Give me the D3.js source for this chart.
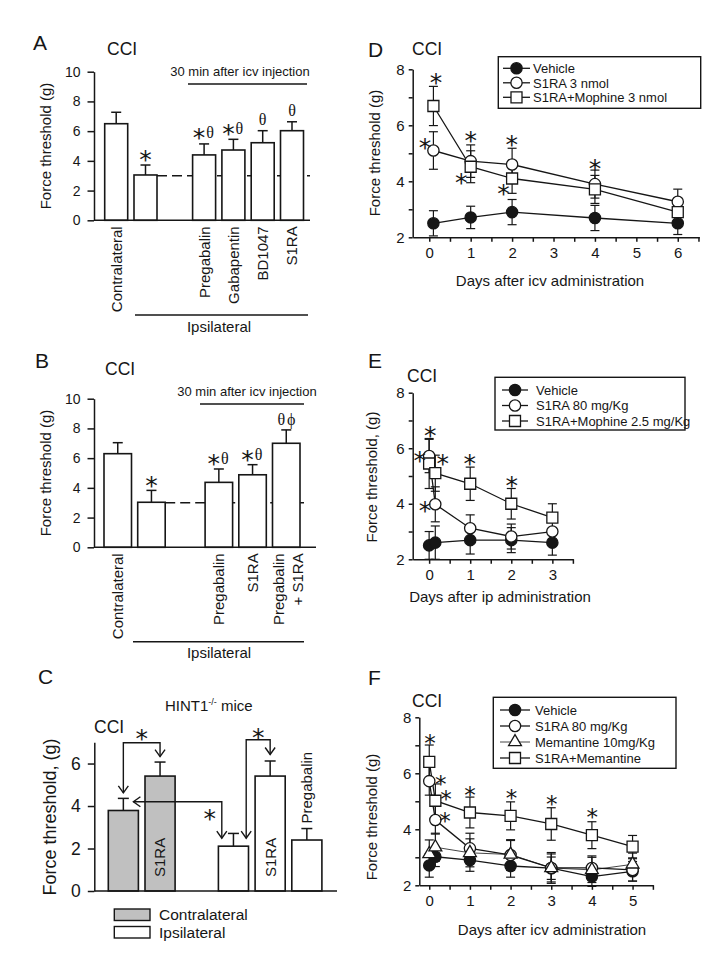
<!DOCTYPE html>
<html>
<head>
<meta charset="utf-8">
<script src="https://cdn.jsdelivr.net/npm/d3@7/dist/d3.min.js"></script>
<style>
html,body{margin:0;padding:0;background:#fff;}
svg{display:block;}
</style>
</head>
<body>
<svg id="fig" width="715" height="964"></svg>
<script>
// ================= DATA =================
// Panel A (CCI, icv, 30 min)
const aCategories = ["Contralateral","Ipsilateral","Pregabalin","Gabapentin","BD1047","S1RA"];
const aTickLabels = [["Contralateral"],[],["Pregabalin"],["Gabapentin"],["BD1047"],["S1RA"]];
const aMeans  = [6.5, 3.05, 4.4, 4.73, 5.22, 6.03];
const aErrors = [0.77, 0.67, 0.74, 0.72, 0.81, 0.6];
const aMarks  = ["", "*", "*θ", "*θ", "θ", "θ"];
const abYTicks = [0, 2, 4, 6, 8, 10];

// Panel B
const bCategories = ["Contralateral","Ipsilateral","Pregabalin","S1RA","Pregabalin + S1RA"];
const bTickLabels = [["Contralateral"],[],["Pregabalin"],["S1RA"],["Pregabalin","+ S1RA"]];
const bMeans  = [6.3, 3.03, 4.37, 4.88, 7.0];
const bErrors = [0.74, 0.8, 0.9, 0.68, 0.9];
const bMarks  = ["", "*", "*θ", "*θ", "θϕ"];

// Panel C (HINT1-/- mice)
const cCategories = ["Contralateral","Contralateral S1RA","Ipsilateral","Ipsilateral S1RA","Ipsilateral Pregabalin"];
const cSides      = ["Contralateral","Contralateral","Ipsilateral","Ipsilateral","Ipsilateral"];
const cBarLabels  = ["", "S1RA", "", "S1RA", "Pregabalin"];
const cMeans  = [3.79, 5.41, 2.11, 5.41, 2.4];
const cErrors = [0.57, 0.66, 0.6, 0.71, 0.54];
const cYTicks = [0, 2, 4, 6];
const cLegend = ["Contralateral","Ipsilateral"];

// Panel D (icv, days)
const dDays = [0.1, 1, 2, 4, 6];
const dNames = ["Vehicle","S1RA 3 nmol","S1RA+Mophine 3 nmol"];
const dVehicle = [2.5, 2.71, 2.9, 2.69, 2.5];
const dVehicleErr = [0.45, 0.4, 0.45, 0.45, 0.4];
const dS1RA = [5.1, 4.72, 4.6, 3.9, 3.27];
const dS1RAErr = [0.67, 0.58, 0.58, 0.5, 0.45];
const dCombo = [6.69, 4.52, 4.1, 3.71, 2.9];
const dComboErr = [0.7, 0.57, 0.53, 0.5, 0.3];
const dStars = [[0.16,7.69],[-0.1,5.4],[1.0,5.65],[0.77,4.12],[1.99,5.51],[1.79,3.76],[4.0,4.65]];
const dXTickLabels = [0,1,2,3,4,5,6];

// Panel E (ip, days)
const eDays = [0, 0.15, 1, 2, 3];
const eNames = ["Vehicle","S1RA 80 mg/Kg","S1RA+Mophine 2.5 mg/Kg"];
const eVehicle = [2.5, 2.6, 2.69, 2.69, 2.6];
const eVehicleErr = [0.5, 0.6, 0.5, 0.45, 0.45];
const eS1RA = [5.72, 3.98, 3.12, 2.82, 3.0];
const eS1RAErr = [0.6, 0.63, 0.48, 0.45, 0.1];
const eCombo = [5.45, 5.1, 4.72, 4.0, 3.5];
const eComboErr = [0.9, 0.65, 0.6, 0.55, 0.5];
const eStars = [[0.03,6.65],[-0.23,5.75],[0.33,5.63],[-0.1,3.92],[0.99,5.63],[2.01,4.83]];
const eXTickLabels = [0,1,2,3];

// Panel F (icv, memantine)
const fDays = [0, 0.15, 1, 2, 3, 4, 5];
const fNames = ["Vehicle","S1RA 80 mg/Kg","Memantine 10mg/Kg","S1RA+Memantine"];
const fVehicle = [2.71, 3.02, 2.9, 2.69, 2.61, 2.31, 2.5];
const fVehicleErr = [0.42, 0.35, 0.4, 0.4, 0.4, 0.35, 0.35];
const fS1RA = [5.72, 4.33, 3.32, 3.08, 2.62, 2.62, 2.55];
const fS1RAErr = [0.5, 0.5, 0.54, 0.55, 0.55, 0.43, 0.4];
const fMemantine = [3.12, 3.36, 3.16, 3.1, 2.62, 2.55, 2.75];
const fMemantineErr = [0.5, 0.5, 0.5, 0.5, 0.5, 0.45, 0.4];
const fCombo = [6.41, 5.02, 4.6, 4.48, 4.19, 3.79, 3.38];
const fComboErr = [0.6, 0.6, 0.55, 0.5, 0.58, 0.48, 0.4];
const fStars = [[0.02,7.25],[0.28,5.76],[0.41,5.23],[0.39,4.45],[1.0,5.4],[2.02,5.29],[3.01,5.05],[4.01,4.59]];
const fXTickLabels = [0,1,2,3,4,5];

// ================= DRAWING =================
const svg = d3.select("#fig");
const SANS = '"Liberation Sans", Arial, sans-serif';
const SERIF = '"Liberation Serif", "Times New Roman", serif';
const STAR_FONT = '"DejaVu Sans", sans-serif';
const STAR_FS = 25, STAR_DY = 13.5;
const INK = "#161616";
const GREY = "#c0c0c0";

function txt(g, x, y, s, size, opts = {}) {
  return g.append("text").attr("x", x).attr("y", y)
    .attr("font-size", size).attr("font-family", opts.font || SANS)
    .attr("text-anchor", opts.anchor || "start").attr("fill", INK).text(s);
}
function line(g, x1, y1, x2, y2, w = 1.5) {
  return g.append("line").attr("x1", x1).attr("y1", y1).attr("x2", x2).attr("y2", y2)
    .attr("stroke", INK).attr("stroke-width", w);
}
function star(g, cx, cy, fs) {
  const f = fs || STAR_FS;
  txt(g, cx, cy + STAR_DY * f / STAR_FS, "*", f, {anchor: "middle", font: STAR_FONT});
}
function mark(g, cx, cy, m) {
  const chars = Array.from(m);
  const w = chars.map(c => c === "*" ? 12 : 10);
  let xp = cx - d3.sum(w) / 2;
  chars.forEach((c, i) => {
    const mid = xp + w[i] / 2;
    if (c === "*") star(g, mid, cy);
    else txt(g, mid, cy + 5.5, c, 16, {anchor: "middle", font: SERIF});
    xp += w[i];
  });
}
function styleAxis(ag, fs) {
  ag.attr("font-size", fs).attr("font-family", SANS).attr("color", INK);
  ag.selectAll("path,line").attr("stroke-width", 1.5);
}
function rotLabel(g, cx, yTop, s, fs, anchor) {
  g.append("text").attr("transform", `translate(${cx + 0.36 * fs},${yTop}) rotate(-90)`)
    .attr("font-size", fs).attr("font-family", SANS).attr("fill", INK)
    .attr("text-anchor", anchor).text(s);
}

function barPanel(o) {
  const g = svg.append("g");
  const slots = o.categories.slice(0, 2).concat(["__gap"], o.categories.slice(2));
  const x = d3.scaleBand().domain(slots).range(o.xRange).paddingInner(o.padInner).paddingOuter(0);
  const y = d3.scaleLinear().domain(o.yDomain).range(o.yRange);
  const bw = x.bandwidth();
  const cx = c => x(c) + bw / 2;
  if (o.refValue != null) {
    line(g, x(o.categories[1]) + bw, y(o.refValue), o.refEnd, y(o.refValue), 1.5)
      .attr("stroke-dasharray", "10,5");
  }
  g.selectAll("rect.bar").data(o.categories).join("rect").attr("class", "bar")
    .attr("x", c => x(c)).attr("width", bw)
    .attr("y", (c, i) => y(o.means[i]))
    .attr("height", (c, i) => y(0) - y(o.means[i]))
    .attr("fill", (c, i) => o.fills ? o.fills[i] : "#fff")
    .attr("stroke", INK).attr("stroke-width", 1.6);
  o.categories.forEach((c, i) => {
    const top = y(o.means[i] + o.errors[i]);
    line(g, cx(c), y(o.means[i]), cx(c), top, 1.5);
    line(g, cx(c) - o.cap, top, cx(c) + o.cap, top, 1.5);
  });
  const ya = d3.axisLeft(y).tickValues(o.yTicks).tickFormat(d3.format("d"))
    .tickSize(6.5).tickSizeOuter(0).tickPadding(7);
  const yg = g.append("g").attr("transform", `translate(${o.xAxisStart},0)`).call(ya);
  styleAxis(yg, o.tickFs);
  line(g, o.xAxisStart, y(0), o.xAxisEnd, y(0), 1.5);
  return {g, x, y, bw, cx};
}

// ---------- Panel A ----------
(function () {
  const p = barPanel({categories: aCategories, means: aMeans, errors: aErrors,
    xRange: [104.7, 303.5], padInner: 0.215, yDomain: [0, 10], yRange: [220.3, 71.7],
    yTicks: abYTicks, xAxisStart: 94, xAxisEnd: 310, refValue: 3, refEnd: 310, cap: 5, tickFs: 14});
  const g = p.g;
  aCategories.forEach((c, i) => {
    aTickLabels[i].forEach(s => rotLabel(g, p.cx(c), p.y(0) + 6, s, 15, "end"));
    if (aMarks[i]) mark(g, p.cx(c), p.y(aMeans[i] + aErrors[i]) - 11, aMarks[i]);
  });
  txt(g, 33, 50, "A", 21);
  txt(g, 107, 55, "CCI", 17.5);
  g.append("text").attr("transform", "translate(51,146) rotate(-90)").attr("text-anchor", "middle")
    .attr("font-size", 15).attr("font-family", SANS).attr("fill", INK).text("Force threshold (g)");
  txt(g, 240, 76, "30 min after icv injection", 13, {anchor: "middle"});
  line(g, 188, 84, 307, 84, 1.5);
  line(g, 135, 315, 308, 315, 1.5);
  txt(g, 219, 332, "Ipsilateral", 15, {anchor: "middle"});
})();

// ---------- Panel B ----------
(function () {
  const p = barPanel({categories: bCategories, means: bMeans, errors: bErrors,
    xRange: [104, 300], padInner: 0.184, yDomain: [0, 10], yRange: [547.3, 398.7],
    yTicks: abYTicks, xAxisStart: 94, xAxisEnd: 316, refValue: 3, refEnd: 304, cap: 5, tickFs: 14});
  const g = p.g;
  bCategories.forEach((c, i) => {
    const labs = bTickLabels[i];
    labs.forEach((s, k) => {
      const off = labs.length === 1 ? 0 : (k === 0 ? -8 : 11);
      rotLabel(g, p.cx(c) + off, p.y(0) + 6, s, 15, "end");
    });
    if (bMarks[i]) mark(g, p.cx(c), p.y(bMeans[i] + bErrors[i]) - 10, bMarks[i]);
  });
  txt(g, 35, 368, "B", 21);
  txt(g, 105, 375, "CCI", 17.5);
  g.append("text").attr("transform", "translate(51,473) rotate(-90)").attr("text-anchor", "middle")
    .attr("font-size", 15).attr("font-family", SANS).attr("fill", INK).text("Force threshold (g)");
  txt(g, 247, 396, "30 min after icv injection", 13, {anchor: "middle"});
  line(g, 200, 404, 304, 404, 1.5);
  line(g, 133, 641.7, 304, 641.7, 1.5);
  txt(g, 219, 657.5, "Ipsilateral", 15, {anchor: "middle"});
})();

// ---------- Panel C ----------
(function () {
  const p = barPanel({categories: cCategories, means: cMeans, errors: cErrors,
    fills: cSides.map(s => s === "Contralateral" ? GREY : "#fff"),
    xRange: [108.3, 321.9], padInner: 0.18, yDomain: [0, 7], yRange: [891, 742.3],
    yTicks: cYTicks, xAxisStart: 94.3, xAxisEnd: 337, refValue: null, cap: 5.5, tickFs: 17.5});
  const g = p.g, x = p.x, y = p.y, bw = p.bw;
  cCategories.forEach((c, i) => {
    if (cBarLabels[i] === "S1RA") rotLabel(g, p.cx(c), y(0) - 14, cBarLabels[i], 15, "start");
    else if (cBarLabels[i]) rotLabel(g, p.cx(c), y(cMeans[i] + cErrors[i]) - 5, cBarLabels[i], 15, "start");
  });
  txt(g, 38, 684, "C", 21);
  const h = txt(g, 165, 711, "HINT1", 15);
  h.append("tspan").attr("dy", -6).attr("font-size", 9).text("-/-");
  h.append("tspan").attr("dy", 6).attr("font-size", 15).text(" mice");
  txt(g, 94, 733.3, "CCI", 17.5);
  g.append("text").attr("transform", "translate(56,817) rotate(-90)").attr("text-anchor", "middle")
    .attr("font-size", 18).attr("font-family", SANS).attr("fill", INK).text("Force threshold, (g)");

  // arrows
  function head(px, py, dir) {
    const L = 7, W = 5;
    let pts;
    if (dir === "down") pts = [[px - W, py - L], [px, py], [px + W, py - L]];
    else pts = [[px + L, py - W], [px, py], [px + L, py + W]];
    g.append("path").attr("d", d3.line()(pts)).attr("fill", "none").attr("stroke", INK).attr("stroke-width", 1.4);
  }
  function poly(pts) {
    g.append("path").attr("d", d3.line()(pts)).attr("fill", "none").attr("stroke", INK).attr("stroke-width", 1.4);
  }
  const c0 = p.cx(cCategories[0]), c1 = p.cx(cCategories[1]), c3 = p.cx(cCategories[3]);
  const lev1 = y(6.98);
  const t0 = y(cMeans[0] + cErrors[0]) - 5.5, t1 = y(cMeans[1] + cErrors[1]) - 5.5;
  poly([[c0, t0], [c0, lev1], [c1, lev1], [c1, t1]]);
  head(c0, t0, "down"); head(c1, t1, "down");
  star(g, (c0 + c1) / 2, lev1 - 9);

  const lev2 = y(4.2);
  const lx = x(cCategories[0]) + bw - 5;
  const ix1 = x(cCategories[2]) + 3.4;
  const ti = y(cMeans[2]) - 8;
  poly([[lx, lev2], [ix1, lev2], [ix1, ti]]);
  head(lx, lev2, "left"); head(ix1, ti, "down");
  star(g, ix1 - 12, lev2 + 12);

  const ix2 = x(cCategories[2]) + bw - 2.3;
  const lev3 = y(7.12);
  const t3 = y(cMeans[3] + cErrors[3]) - 6.5;
  poly([[ix2, ti], [ix2, lev3], [c3, lev3], [c3, t3]]);
  head(ix2, ti, "down"); head(c3, t3, "down");
  star(g, (ix2 + c3) / 2, lev3 - 7);

  // legend
  cLegend.forEach((s, i) => {
    const yy = 909 + i * 17.5;
    g.append("rect").attr("x", 114.3).attr("y", yy).attr("width", 35.7).attr("height", 11.5)
      .attr("fill", s === "Contralateral" ? GREY : "#fff").attr("stroke", INK).attr("stroke-width", 1.4);
    txt(g, 159, yy + 11, s, 15.5);
  });
})();

// ---------- Line panels ----------
const SYMS = {
  filled:   {type: d3.symbolCircle, size: 100, fill: INK},
  circle:   {type: d3.symbolCircle, size: 100, fill: "#fff"},
  square:   {type: d3.symbolSquare, size: 121, fill: "#fff"},
  triangle: {type: d3.symbolTriangle, size: 72, fill: "#fff"}
};
function drawSym(g, kind, px, py) {
  const s = SYMS[kind];
  g.append("path").attr("d", d3.symbol(s.type, s.size)())
    .attr("transform", `translate(${px},${py})`)
    .attr("fill", s.fill).attr("stroke", INK).attr("stroke-width", 1.3);
}
function linePanel(o) {
  const g = svg.append("g");
  const x = d3.scaleLinear().domain(o.xDomain).range(o.xRange);
  const y = d3.scaleLinear().domain(o.yDomain).range(o.yRange);
  const ya = d3.axisLeft(y).tickValues(d3.range(o.yDomain[0], o.yDomain[1] + 0.01, 1))
    .tickSize(4).tickSizeOuter(0).tickPadding(4).tickFormat(d => d % 2 === 0 ? d : "");
  styleAxis(g.append("g").attr("transform", `translate(${o.xRange[0]},0)`).call(ya), 15);
  const xa = d3.axisBottom(x).tickValues(d3.range(0, o.xTickMax + 0.01, 0.5))
    .tickSize(4.5).tickSizeOuter(0).tickPadding(6)
    .tickFormat(d => o.xTickLabels.includes(d) ? d : "");
  styleAxis(g.append("g").attr("transform", `translate(0,${o.yRange[0]})`).call(xa), 15);

  o.series.forEach(s => {
    const pts = o.days.map((d, i) => [x(d), y(s.values[i])]);
    g.append("path").attr("d", d3.line()(pts)).attr("fill", "none")
      .attr("stroke", INK).attr("stroke-width", s.lw || 1.3);
  });
  o.series.forEach(s => {
    o.days.forEach((d, i) => {
      const px = x(d), lo = y(s.values[i] - s.errors[i]), hi = y(s.values[i] + s.errors[i]);
      line(g, px, lo, px, hi, 1.2);
      line(g, px - 4.5, lo, px + 4.5, lo, 1.2);
      line(g, px - 4.5, hi, px + 4.5, hi, 1.2);
    });
  });
  o.series.forEach(s => {
    o.days.forEach((d, i) => drawSym(g, s.sym, x(d), y(s.values[i])));
  });
  o.stars.forEach(st => star(g, x(st[0]), y(st[1]), o.starFs));

  // legend
  const L = o.legend;
  g.append("rect").attr("x", L.x0).attr("y", L.y0).attr("width", L.x1 - L.x0).attr("height", L.y1 - L.y0)
    .attr("fill", "#fff").attr("stroke", INK).attr("stroke-width", 1.4);
  o.series.forEach((s, i) => {
    const yy = L.row0 + i * L.dy;
    line(g, L.lx0, yy, L.lx1, yy, s.lw || 1.3);
    drawSym(g, s.sym, (L.lx0 + L.lx1) / 2, yy);
    txt(g, L.tx, yy + 4.7, o.names[i], 13);
  });

  txt(g, 368, o.letterY, o.letter, 21);
  txt(g, o.cciX, o.cciY, "CCI", 17.5);
  g.append("text").attr("transform", `translate(${o.ylabX},${o.ylabY}) rotate(-90)`).attr("text-anchor", "middle")
    .attr("font-size", 15).attr("font-family", SANS).attr("fill", INK).text(o.ylab);
  txt(g, o.xlabX, o.xlabY, o.xlab, 15, {anchor: "middle"});
}

linePanel({
  days: dDays, names: dNames,
  series: [
    {values: dVehicle, errors: dVehicleErr, sym: "filled"},
    {values: dS1RA, errors: dS1RAErr, sym: "circle"},
    {values: dCombo, errors: dComboErr, sym: "square"}
  ],
  stars: dStars, xTickLabels: dXTickLabels, xTickMax: 6.5,
  xDomain: [-0.4, 6.52], xRange: [412.7, 699.3], yDomain: [2, 8], yRange: [237.3, 69.3],
  legend: {x0: 498.3, x1: 700.7, y0: 56.7, y1: 108.3, row0: 68.3, dy: 14.5, lx0: 503, lx1: 530, tx: 533},
  letter: "D", letterY: 57, cciX: 412, cciY: 55,
  ylab: "Force threshold (g)", ylabX: 380, ylabY: 153,
  xlab: "Days after icv administration", xlabX: 550, xlabY: 286
});

linePanel({
  days: eDays, names: eNames,
  series: [
    {values: eVehicle, errors: eVehicleErr, sym: "filled"},
    {values: eS1RA, errors: eS1RAErr, sym: "circle"},
    {values: eCombo, errors: eComboErr, sym: "square"}
  ],
  stars: eStars, xTickLabels: eXTickLabels, xTickMax: 3.5,
  xDomain: [-0.4, 3.51], xRange: [412.7, 573.3], yDomain: [2, 8], yRange: [559.3, 392.7],
  legend: {x0: 495, x1: 685, y0: 377.3, y1: 430, row0: 390, dy: 15.5, lx0: 502, lx1: 528, tx: 536},
  letter: "E", letterY: 368, cciX: 407, cciY: 382,
  ylab: "Force threshold, (g)", ylabX: 377, ylabY: 477,
  xlab: "Days after ip administration", xlabX: 500, xlabY: 602
});

linePanel({
  days: fDays, names: fNames,
  series: [
    {values: fVehicle, errors: fVehicleErr, sym: "filled"},
    {values: fS1RA, errors: fS1RAErr, sym: "circle"},
    {values: fMemantine, errors: fMemantineErr, sym: "triangle", lw: 0.8},
    {values: fCombo, errors: fComboErr, sym: "square"}
  ],
  stars: fStars, starFs: 23, xTickLabels: fXTickLabels, xTickMax: 5.5,
  xDomain: [-0.245, 5.51], xRange: [419.3, 653.3], yDomain: [2, 8], yRange: [885.3, 717.3],
  legend: {x0: 493.3, x1: 676, y0: 697.3, y1: 768.3, row0: 710, dy: 16, lx0: 500, lx1: 530, tx: 535},
  letter: "F", letterY: 685, cciX: 412, cciY: 707,
  ylab: "Force threshold (g)", ylabX: 377, ylabY: 817,
  xlab: "Days after icv administration", xlabX: 552, xlabY: 935
});
</script>
</body>
</html>
